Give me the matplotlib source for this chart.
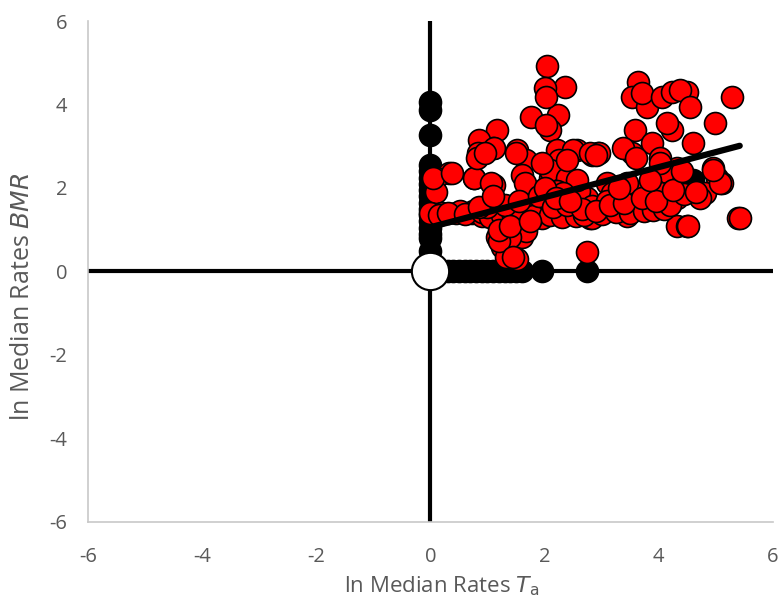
import matplotlib
matplotlib.use("Agg")
import matplotlib.pyplot as plt

plt.rcParams["axes.unicode_minus"] = False
plt.rcParams["font.family"] = ["Open Sans", "DejaVu Sans"]

# red series: ln median rates (Ta, BMR)
red_x = [2.04, 2.35, 2.00, 2.23, 1.77, 2.09, 1.16, 1.09, 1.51, 2.21, 2.56, 2.93,
         1.68, 0.33, 0.10, 0.10, 0.86, 1.12, 0.83, 0.77, 1.12, 1.50, 1.61, 2.03,
         2.03, 0.00, 0.21, 0.45, 0.74, 0.98, 1.16, 1.39, 1.61, 1.16, 1.26, 1.33,
         1.51, 1.61, 1.47, 1.68, 2.74, 2.84, 2.49, 2.26, 2.09, 2.49, 2.61, 2.74,
         2.44, 2.21, 1.91, 1.82, 3.63, 3.54, 3.79, 3.70, 4.05, 4.23, 4.49, 4.37,
         4.54, 5.28, 4.98, 3.58, 4.23, 4.14, 4.60, 3.88, 3.53, 3.37, 2.96, 2.79,
         4.02, 4.32, 4.07, 4.95, 5.02, 5.11, 4.81, 4.60, 4.37, 4.14, 3.96, 3.63,
         3.44, 3.44, 3.32, 4.32, 4.49, 5.39, 3.09, 2.96, 3.19, 2.74, 2.79, 0.04,
         0.37, 0.77, 1.07, 0.81, 0.95, 1.65, 2.09, 2.39, 2.61, 2.21, 1.96, 1.39,
         1.21, 1.44, 0.51, 0.72, 0.91, 1.33, 1.68, 2.56, 2.84, 3.09, 3.61, 3.44,
         4.02, 4.32, 4.72, 5.07, 4.95, 4.51, 5.42, 2.39, 2.91, 3.61, 4.02, 2.32,
         2.84, 3.18, 0.15, 0.30, 0.60, 0.90, 1.05, 1.25, 1.45, 1.80, 2.10, 2.30,
         2.55, 2.70, 3.00, 3.25, 3.50, 3.75, 3.90, 4.10, 4.20, 4.45, 1.00, 1.30,
         1.55, 1.90, 2.15, 2.40, 2.65, 2.90, 3.15, 3.40, 3.70, 3.95, 4.25, 4.65,
         1.20, 1.40, 1.75, 2.00, 2.20, 2.45, 3.30, 3.85, 4.40, 0.85, 1.10, 1.95]
red_y = [4.92, 4.43, 4.39, 3.74, 3.70, 3.38, 3.38, 2.97, 2.90, 2.90, 2.90, 2.83,
         2.66, 2.35, 2.25, 1.90, 3.14, 2.95, 2.83, 2.25, 2.06, 2.85, 2.30, 3.50,
         4.17, 1.39, 1.39, 1.41, 1.46, 1.34, 1.22, 1.39, 1.39, 0.82, 0.58, 0.34,
         0.31, 0.82, 1.06, 0.98, 0.46, 2.78, 2.90, 2.66, 2.25, 2.18, 1.77, 1.53,
         1.46, 1.63, 1.70, 1.39, 4.53, 4.17, 3.93, 4.27, 4.17, 4.29, 4.29, 4.34,
         3.93, 4.17, 3.55, 3.38, 3.38, 3.55, 3.07, 3.07, 2.83, 2.95, 2.83, 2.83,
         2.73, 2.49, 2.35, 2.49, 2.25, 2.11, 1.87, 1.90, 1.94, 1.87, 1.94, 1.87,
         1.82, 1.34, 1.63, 1.10, 1.10, 1.29, 2.11, 1.53, 1.87, 1.77, 1.29, 2.25,
         2.35, 2.23, 2.11, 2.73, 2.83, 2.11, 2.42, 2.25, 1.94, 1.94, 1.27, 0.82,
         0.74, 0.34, 1.46, 1.41, 1.34, 1.34, 1.46, 2.18, 1.58, 1.70, 1.87, 2.11,
         1.87, 1.77, 1.77, 2.11, 2.42, 1.10, 1.29, 2.66, 2.78, 2.73, 2.59, 1.87,
         1.29, 1.51, 1.35, 1.40, 1.38, 1.42, 1.30, 1.36, 1.33, 1.32, 1.35, 1.30,
         1.33, 1.36, 1.38, 1.42, 1.40, 1.45, 1.48, 1.50, 1.60, 1.85, 1.55, 1.60,
         1.70, 1.80, 1.55, 1.60, 1.50, 1.45, 1.60, 1.65, 1.75, 1.70, 1.95, 1.90,
         1.00, 1.10, 1.20, 2.00, 1.75, 1.70, 2.00, 2.20, 2.40, 1.55, 1.80, 2.60]

# black series: points lying on the axes (plus a few in the cluster)
black_x = [0, 0, 0, 0, 0, 0, 0, 0, 0, 0, 0, 0, 0, 0, 0, 0, 0,
           0.10, 0.20, 0.30, 0.40, 0.50, 0.60, 0.70, 0.80, 0.90, 1.00, 1.10,
           1.20, 1.30, 1.40, 1.50, 1.60, 1.95, 2.75, 1.95, 2.00, 2.00, 4.55, 4.60]
black_y = [4.05, 3.86, 3.26, 2.55, 2.40, 2.25, 2.10, 1.95, 1.80, 1.65, 1.50,
           1.35, 1.20, 1.05, 0.90, 0.80, 0.50,
           0, 0, 0, 0, 0, 0, 0, 0, 0, 0, 0, 0, 0, 0, 0, 0, 0, 0,
           1.40, 1.60, 1.75, 2.00, 2.20]

# trend line (as drawn on the chart)
fit_a, fit_b = 1.06, 0.36
fit_x = [0.0, 5.42]

XTICKS = [-6, -4, -2, 0, 2, 4, 6]
YTICKS = [-6, -4, -2, 0, 2, 4, 6]

fig = plt.figure(figsize=(7.83, 6.09), dpi=100)
ax = fig.add_axes([0.1124, 0.1429, 0.8746, 0.8226])

ax.axhline(0, color="black", lw=3, zorder=1)
ax.axvline(0, color="black", lw=3, zorder=1)

ax.scatter(black_x, black_y, s=250, color="black", edgecolor="black", lw=1.2, zorder=2)
ax.scatter(red_x, red_y, s=250, color="#ff0000", edgecolor="black", lw=1.2, zorder=3)
ax.plot(fit_x, [fit_a + fit_b * x for x in fit_x], color="black", lw=4.5,
        solid_capstyle="round", zorder=4)
ax.scatter([0], [0], s=720, color="white", edgecolor="black", lw=1.5, zorder=5)

ax.set_xlim(-6, 6)
ax.set_ylim(-6, 6)
ax.set_xticks(XTICKS)
ax.set_yticks(YTICKS)
for s in ["top", "right"]:
    ax.spines[s].set_visible(False)
for s in ["left", "bottom"]:
    ax.spines[s].set_color("#c8c8c8")
    ax.spines[s].set_linewidth(1.2)
ax.tick_params(length=0, labelcolor="#595959", labelsize=14.5)
ax.tick_params(axis="x", pad=18)
ax.tick_params(axis="y", pad=15)

ax.set_xlabel(r"ln Median Rates $\mathit{T}_{\mathrm{a}}$", fontsize=16, color="#595959")
ax.set_ylabel(r"ln Median Rates $\mathit{BMR}$", fontsize=18, color="#595959")
ax.xaxis.set_label_coords(0.517, -0.105)
ax.yaxis.set_label_coords(-0.078, 0.45)

fig.savefig("out.png", dpi=100)
